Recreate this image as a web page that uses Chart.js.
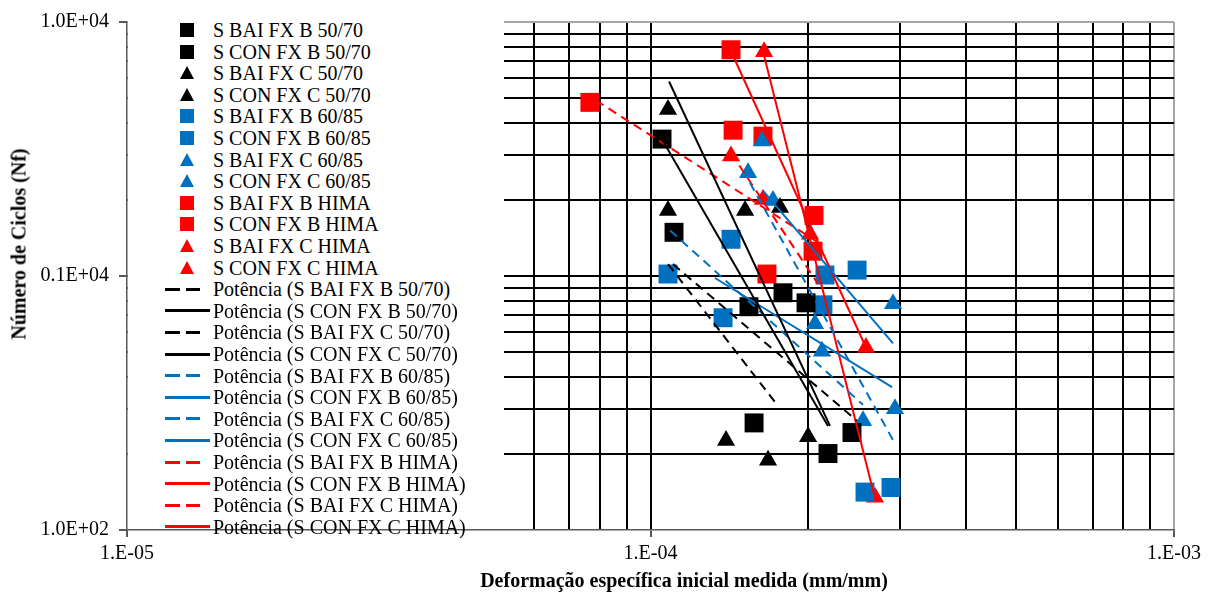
<!doctype html>
<html>
<head>
<meta charset="utf-8">
<title>Número de Ciclos x Deformação</title>
<script src="https://cdn.jsdelivr.net/npm/chart.js@4.4.1/dist/chart.umd.min.js"></script>
<style>
  body { margin: 0; background: #fff; }
  #wrap { position: relative; width: 1211px; height: 594px; font-family: "Liberation Serif", "Times New Roman", serif; }
  #legend { position: absolute; left: 128px; top: 19px; width: 376px; height: 510px; background: #fff; }
  .item { position: absolute; left: 85px; height: 22px; line-height: 22px; font-size: 20px; color: #000; white-space: nowrap; }
  .mk { position: absolute; }
  .axt { position: absolute; font-weight: bold; font-size: 20px; white-space: nowrap; color: #000; }
</style>
</head>
<body>
<div id="wrap">
  <canvas id="chart" width="1211" height="594"></canvas>
  <div id="legend"></div>
  <div class="axt" id="ytitle" style="left:19px; top:244px; transform: translate(-50%, -50%) rotate(-90deg);">Número de Ciclos (Nf)</div>
  <div class="axt" id="xtitle" style="left:684px; top:580px; transform: translate(-50%, -50%);">Deformação específica inicial medida (mm/mm)</div>
</div>
<script>
// pontos [deformação, Nf]
const sBaiFxB5070 = [[1.052e-4, 3459], [1.577e-4, 264], [1.791e-4, 859], [2.426e-4, 242]];
const sConFxB5070 = [[1.109e-4, 1486], [1.542e-4, 757], [1.982e-4, 784], [2.183e-4, 200]];
const sBaiFxC5070 = [[1.080e-4, 4529], [1.516e-4, 1811], [1.394e-4, 225], [2.000e-4, 233]];
const sConFxC5070 = [[1.080e-4, 1811], [1.768e-4, 1860], [1.677e-4, 188]];
const sBaiFxB6085 = [[1.080e-4, 1018], [1.376e-4, 685], [2.135e-4, 770], [2.569e-4, 141]];
const sConFxB6085 = [[1.425e-4, 1395], [2.154e-4, 1009], [2.481e-4, 1055], [2.880e-4, 147]];
const sBaiFxC6085 = [[1.536e-4, 2547], [2.062e-4, 649], [2.547e-4, 269], [2.931e-4, 300]];
const sConFxC6085 = [[1.633e-4, 3397], [1.714e-4, 1982], [2.126e-4, 505], [2.906e-4, 777]];
const sBaiFxBHima = [[7.66e-5, 4827], [1.438e-4, 3750], [2.044e-4, 1252]];
const sConFxBHima = [[1.425e-4, 7775], [1.640e-4, 3554], [1.669e-4, 1018], [2.053e-4, 1731]];
const sBaiFxCHima = [[1.425e-4, 2970], [1.640e-4, 2000], [2.017e-4, 1459]];
const sConFxCHima = [[1.648e-4, 7636], [2.580e-4, 523], [2.684e-4, 134.6]];

// linhas de tendência (potência), extremos
const tBaiFxB5070 = [[1.104e-4, 1114], [2.481e-4, 269]];
const tConFxB5070 = [[1.043e-4, 3554], [2.183e-4, 257]];
const tBaiFxC5070 = [[1.080e-4, 1114], [1.752e-4, 308]];
const tConFxC5070 = [[1.085e-4, 5830], [2.202e-4, 257]];
const tBaiFxB6085 = [[1.090e-4, 1512], [2.547e-4, 311]];
const tConFxB6085 = [[1.640e-4, 2167], [2.906e-4, 543]];
const tBaiFxC6085 = [[1.549e-4, 2328], [2.931e-4, 219]];
const tConFxC6085 = [[1.328e-4, 982], [2.893e-4, 365]];
const tBaiFxBHima = [[7.866e-5, 4914], [2.089e-4, 1357]];
const tConFxBHima = [[1.438e-4, 7365], [2.580e-4, 523]];
const tBaiFxCHima = [[1.425e-4, 3051], [2.089e-4, 931]];
const tConFxCHima = [[1.648e-4, 7365], [2.684e-4, 133]];

const xMajor = [1e-5, 1e-4, 1e-3];
const xTickLabels = ['1.E-05', '1.E-04', '1.E-03'];
const yMajor = [1e2, 1e3, 1e4];
const yTickLabels = ['1.0E+02', '0.1E+04', '1.0E+04'];
const minorSteps = [2, 3, 4, 5, 6, 7, 8, 9];

const BLACK = '#000000', BLUE = '#0070C0', RED = '#FF0000';

const pointSeries = [
  ['S BAI FX B 50/70', sBaiFxB5070, BLACK, 'rect'],
  ['S CON FX B 50/70', sConFxB5070, BLACK, 'rect'],
  ['S BAI FX C 50/70', sBaiFxC5070, BLACK, 'triangle'],
  ['S CON FX C 50/70', sConFxC5070, BLACK, 'triangle'],
  ['S BAI FX B 60/85', sBaiFxB6085, BLUE, 'rect'],
  ['S CON FX B 60/85', sConFxB6085, BLUE, 'rect'],
  ['S BAI FX C 60/85', sBaiFxC6085, BLUE, 'triangle'],
  ['S CON FX C 60/85', sConFxC6085, BLUE, 'triangle'],
  ['S BAI FX B HIMA', sBaiFxBHima, RED, 'rect'],
  ['S CON FX B HIMA', sConFxBHima, RED, 'rect'],
  ['S BAI FX C HIMA', sBaiFxCHima, RED, 'triangle'],
  ['S CON FX C HIMA', sConFxCHima, RED, 'triangle'],
];
const trendSeries = [
  ['Potência (S BAI FX B 50/70)', tBaiFxB5070, BLACK, true],
  ['Potência (S CON FX B 50/70)', tConFxB5070, BLACK, false],
  ['Potência (S BAI FX C 50/70)', tBaiFxC5070, BLACK, true],
  ['Potência (S CON FX C 50/70)', tConFxC5070, BLACK, false],
  ['Potência (S BAI FX B 60/85)', tBaiFxB6085, BLUE, true],
  ['Potência (S CON FX B 60/85)', tConFxB6085, BLUE, false],
  ['Potência (S BAI FX C 60/85)', tBaiFxC6085, BLUE, true],
  ['Potência (S CON FX C 60/85)', tConFxC6085, BLUE, false],
  ['Potência (S BAI FX B HIMA)', tBaiFxBHima, RED, true],
  ['Potência (S CON FX B HIMA)', tConFxBHima, RED, false],
  ['Potência (S BAI FX C HIMA)', tBaiFxCHima, RED, true],
  ['Potência (S CON FX C HIMA)', tConFxCHima, RED, false],
];

function gridValues(majors) {
  const out = [];
  majors.forEach((m, i) => {
    out.push(m);
    if (i < majors.length - 1) minorSteps.forEach(k => out.push(m * k));
  });
  return out;
}
const xGrid = gridValues(xMajor);
const yGrid = gridValues(yMajor);

const toXY = arr => arr.map(p => ({ x: p[0], y: p[1] }));

const datasets = [];
trendSeries.forEach(s => {
  datasets.push({
    label: s[0], data: toXY(s[1]), showLine: true,
    borderColor: s[2], borderWidth: 2, borderDash: s[3] ? [9, 6] : [],
    pointRadius: 0, fill: false, order: 1,
  });
});
pointSeries.forEach(s => {
  datasets.push({
    label: s[0], data: toXY(s[1]), showLine: false,
    pointStyle: s[3], pointRadius: s[3] === 'rect' ? 13.4 : 10.5,
    pointBackgroundColor: s[2], backgroundColor: s[2], pointBorderWidth: 0, borderWidth: 0,
    order: 2,
  });
});

const tickFont = { family: 'Liberation Serif', size: 20 };

function gridColor(ctx, majors) {
  const v = ctx.tick.value;
  if (v === majors[0]) return 'rgba(0,0,0,0)';
  if (v === majors[majors.length - 1]) return '#a6a6a6';
  return '#000000';
}
function tickMarkColor(ctx, majors) {
  return majors.indexOf(ctx.tick.value) >= 0 ? '#595959' : 'rgba(0,0,0,0)';
}

new Chart(document.getElementById('chart').getContext('2d'), {
  type: 'scatter',
  data: { datasets: datasets },
  options: {
    responsive: false,
    animation: false,
    devicePixelRatio: 1,
    layout: { padding: { top: 18, right: 37, left: 0, bottom: 0 } },
    plugins: { legend: { display: false }, tooltip: { enabled: false } },
    scales: {
      x: {
        type: 'logarithmic', min: 1e-5, max: 1e-3,
        afterBuildTicks: s => { s.ticks = xGrid.map(v => ({ value: v })); },
        afterFit: s => { s.height = 64; },
        ticks: {
          autoSkip: false, maxRotation: 0, font: tickFont, color: '#000', padding: 5,
          callback: v => { const i = xMajor.indexOf(v); return i >= 0 ? xTickLabels[i] : ''; },
        },
        grid: { color: c => gridColor(c, xMajor), lineWidth: 2, tickLength: 7, tickColor: c => tickMarkColor(c, xMajor) },
        border: { color: '#595959', width: 1.5 },
      },
      y: {
        type: 'logarithmic', min: 1e2, max: 1e4,
        afterBuildTicks: s => { s.ticks = yGrid.map(v => ({ value: v })); },
        afterFit: s => { s.width = 127; },
        ticks: {
          autoSkip: false, font: tickFont, color: '#000', padding: 10,
          callback: v => { const i = yMajor.indexOf(v); return i >= 0 ? yTickLabels[i] : ''; },
        },
        grid: { color: c => gridColor(c, yMajor), lineWidth: 2, tickLength: 8, tickColor: c => tickMarkColor(c, yMajor) },
        border: { color: '#595959', width: 1.5 },
      },
    },
  },
});

// legenda desenhada por cima da área do gráfico, como no original
const legend = document.getElementById('legend');
const rowTop = 30 - 19, rowStep = 21.6;
const allRows = pointSeries.map(s => ({ label: s[0], color: s[2], kind: s[3] }))
  .concat(trendSeries.map(s => ({ label: s[0], color: s[2], kind: s[3] ? 'dash' : 'solid' })));
allRows.forEach((r, i) => {
  const cy = rowTop + i * rowStep;
  const t = document.createElement('div');
  t.className = 'item';
  t.style.top = (cy - 11) + 'px';
  t.textContent = r.label;
  legend.appendChild(t);
  const add = (css) => { const d = document.createElement('div'); d.className = 'mk'; Object.assign(d.style, css); legend.appendChild(d); };
  if (r.kind === 'rect') {
    add({ left: '52px', top: (cy - 7) + 'px', width: '14px', height: '14px', background: r.color });
  } else if (r.kind === 'triangle') {
    add({ left: '52px', top: (cy - 7) + 'px', width: '0', height: '0', borderLeft: '7px solid transparent', borderRight: '7px solid transparent', borderBottom: '13px solid ' + r.color });
  } else if (r.kind === 'solid') {
    add({ left: '37px', top: (cy - 1.5) + 'px', width: '45px', height: '3px', background: r.color });
  } else {
    add({ left: '37px', top: (cy - 1.5) + 'px', width: '15px', height: '3px', background: r.color });
    add({ left: '58px', top: (cy - 1.5) + 'px', width: '14px', height: '3px', background: r.color });
  }
});
</script>
</body>
</html>
